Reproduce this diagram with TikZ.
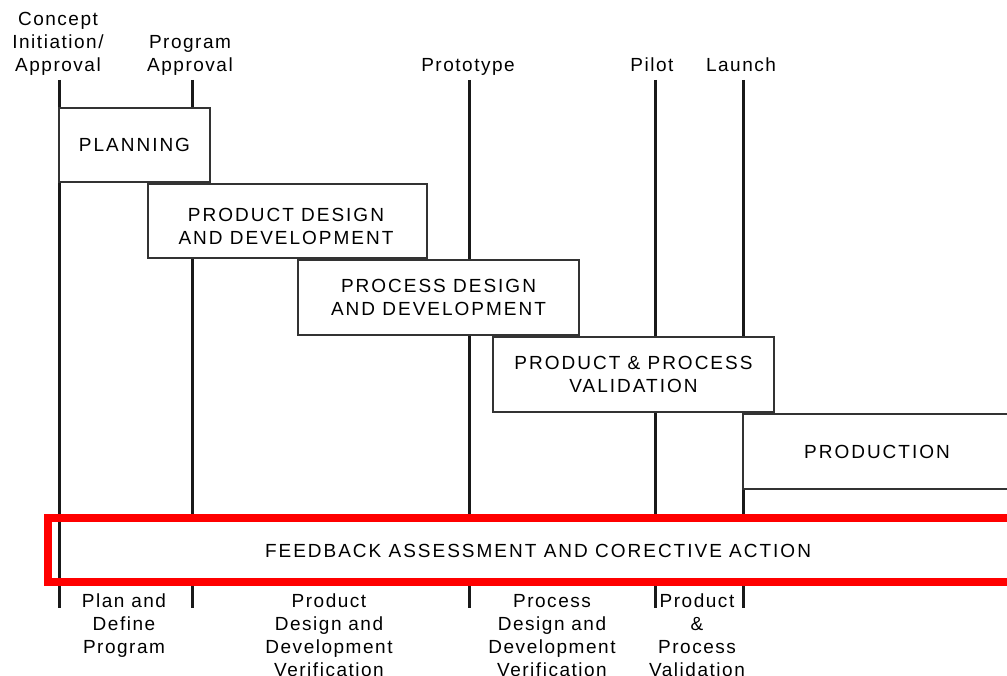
\documentclass[tikz,border=0pt]{standalone}
\usepackage{fontspec}
\setmainfont{Liberation Sans}[LetterSpace=8]
\newfontfamily\capsfont{Liberation Sans}[LetterSpace=10.5]
\begin{document}
\begin{tikzpicture}[x=1pt,y=-1pt,
  txt/.style={font=\fontsize{19}{23}\selectfont, inner sep=0pt, align=center},
  captxt/.style={font=\capsfont\fontsize{19}{23}\selectfont, inner sep=0pt, align=center},
  mile/.style={line width=3pt, draw=black!90},
  phase/.style={draw=black!80, line width=1.4pt, fill=white, inner sep=0pt,
    font=\capsfont\fontsize{19}{23}\selectfont, align=center},
]
\clip (0,0) rectangle (1007,676);
\fill[white] (0,0) rectangle (1007,676);

% milestone labels
\node[txt, anchor=base] (tCon) at (58,72) {Concept\\Initiation/\\Approval};
\node[txt, anchor=base] (tProg) at (190,72) {Program\\Approval};
\node[txt, anchor=base] (tProto) at (468,72) {Prototype};
\node[txt, anchor=base] (tPilot) at (652,72) {Pilot};
\node[txt, anchor=base] (tLaunch) at (741,72) {Launch};

% milestone lines
\coordinate (m1t) at (59,80);  \coordinate (m1b) at (59,608);
\coordinate (m2t) at (192,80); \coordinate (m2b) at (192,608);
\coordinate (m3t) at (469,80); \coordinate (m3b) at (469,608);
\coordinate (m4t) at (655,80); \coordinate (m4b) at (655,608);
\coordinate (m5t) at (743,80); \coordinate (m5b) at (743,608);
\draw[mile] (m1t) -- (m1b);
\draw[mile] (m2t) -- (m2b);
\draw[mile] (m3t) -- (m3b);
\draw[mile] (m4t) -- (m4b);
\draw[mile] (m5t) -- (m5b);

% phase boxes
\node[phase, minimum width=151, minimum height=74] (plan) at (134.5,145) {PLANNING};
\node[phase, minimum width=279, minimum height=74] (pdd) at (287.5,221) {};
\node[captxt] (pddt) at (286,226) {PRODUCT DESIGN\\AND DEVELOPMENT};
\node[phase, minimum width=281, minimum height=75] (prdd) at (438.5,297.5) {PROCESS DESIGN\\AND DEVELOPMENT};
\node[phase, minimum width=281, minimum height=75] (ppv) at (633.5,374.5) {PRODUCT \& PROCESS\\VALIDATION};
\node[phase, minimum width=290, minimum height=75] (prod) at (888,451.5) {};
\node[captxt] (prodt) at (877,452) {PRODUCTION};

% feedback band
\fill[white] (60.5,521) rectangle (1007,579);
\node[captxt] (fbt) at (538,551) {FEEDBACK ASSESSMENT AND CORECTIVE ACTION};
\node[draw=red, line width=7.5pt, minimum width=975, minimum height=64, inner sep=0pt] (fb) at (535.5,550) {};

% bottom phase labels
\node[txt, anchor=north] (b1) at (124,594) {Plan and\\Define\\Program};
\node[txt, anchor=north] (b2) at (329,594) {Product\\Design and\\Development\\Verification};
\node[txt, anchor=north] (b3) at (552,594) {Process\\Design and\\Development\\Verification};
\node[txt, anchor=north] (b4) at (697,594) {Product\\\&\\Process\\Validation};
\end{tikzpicture}
\end{document}
